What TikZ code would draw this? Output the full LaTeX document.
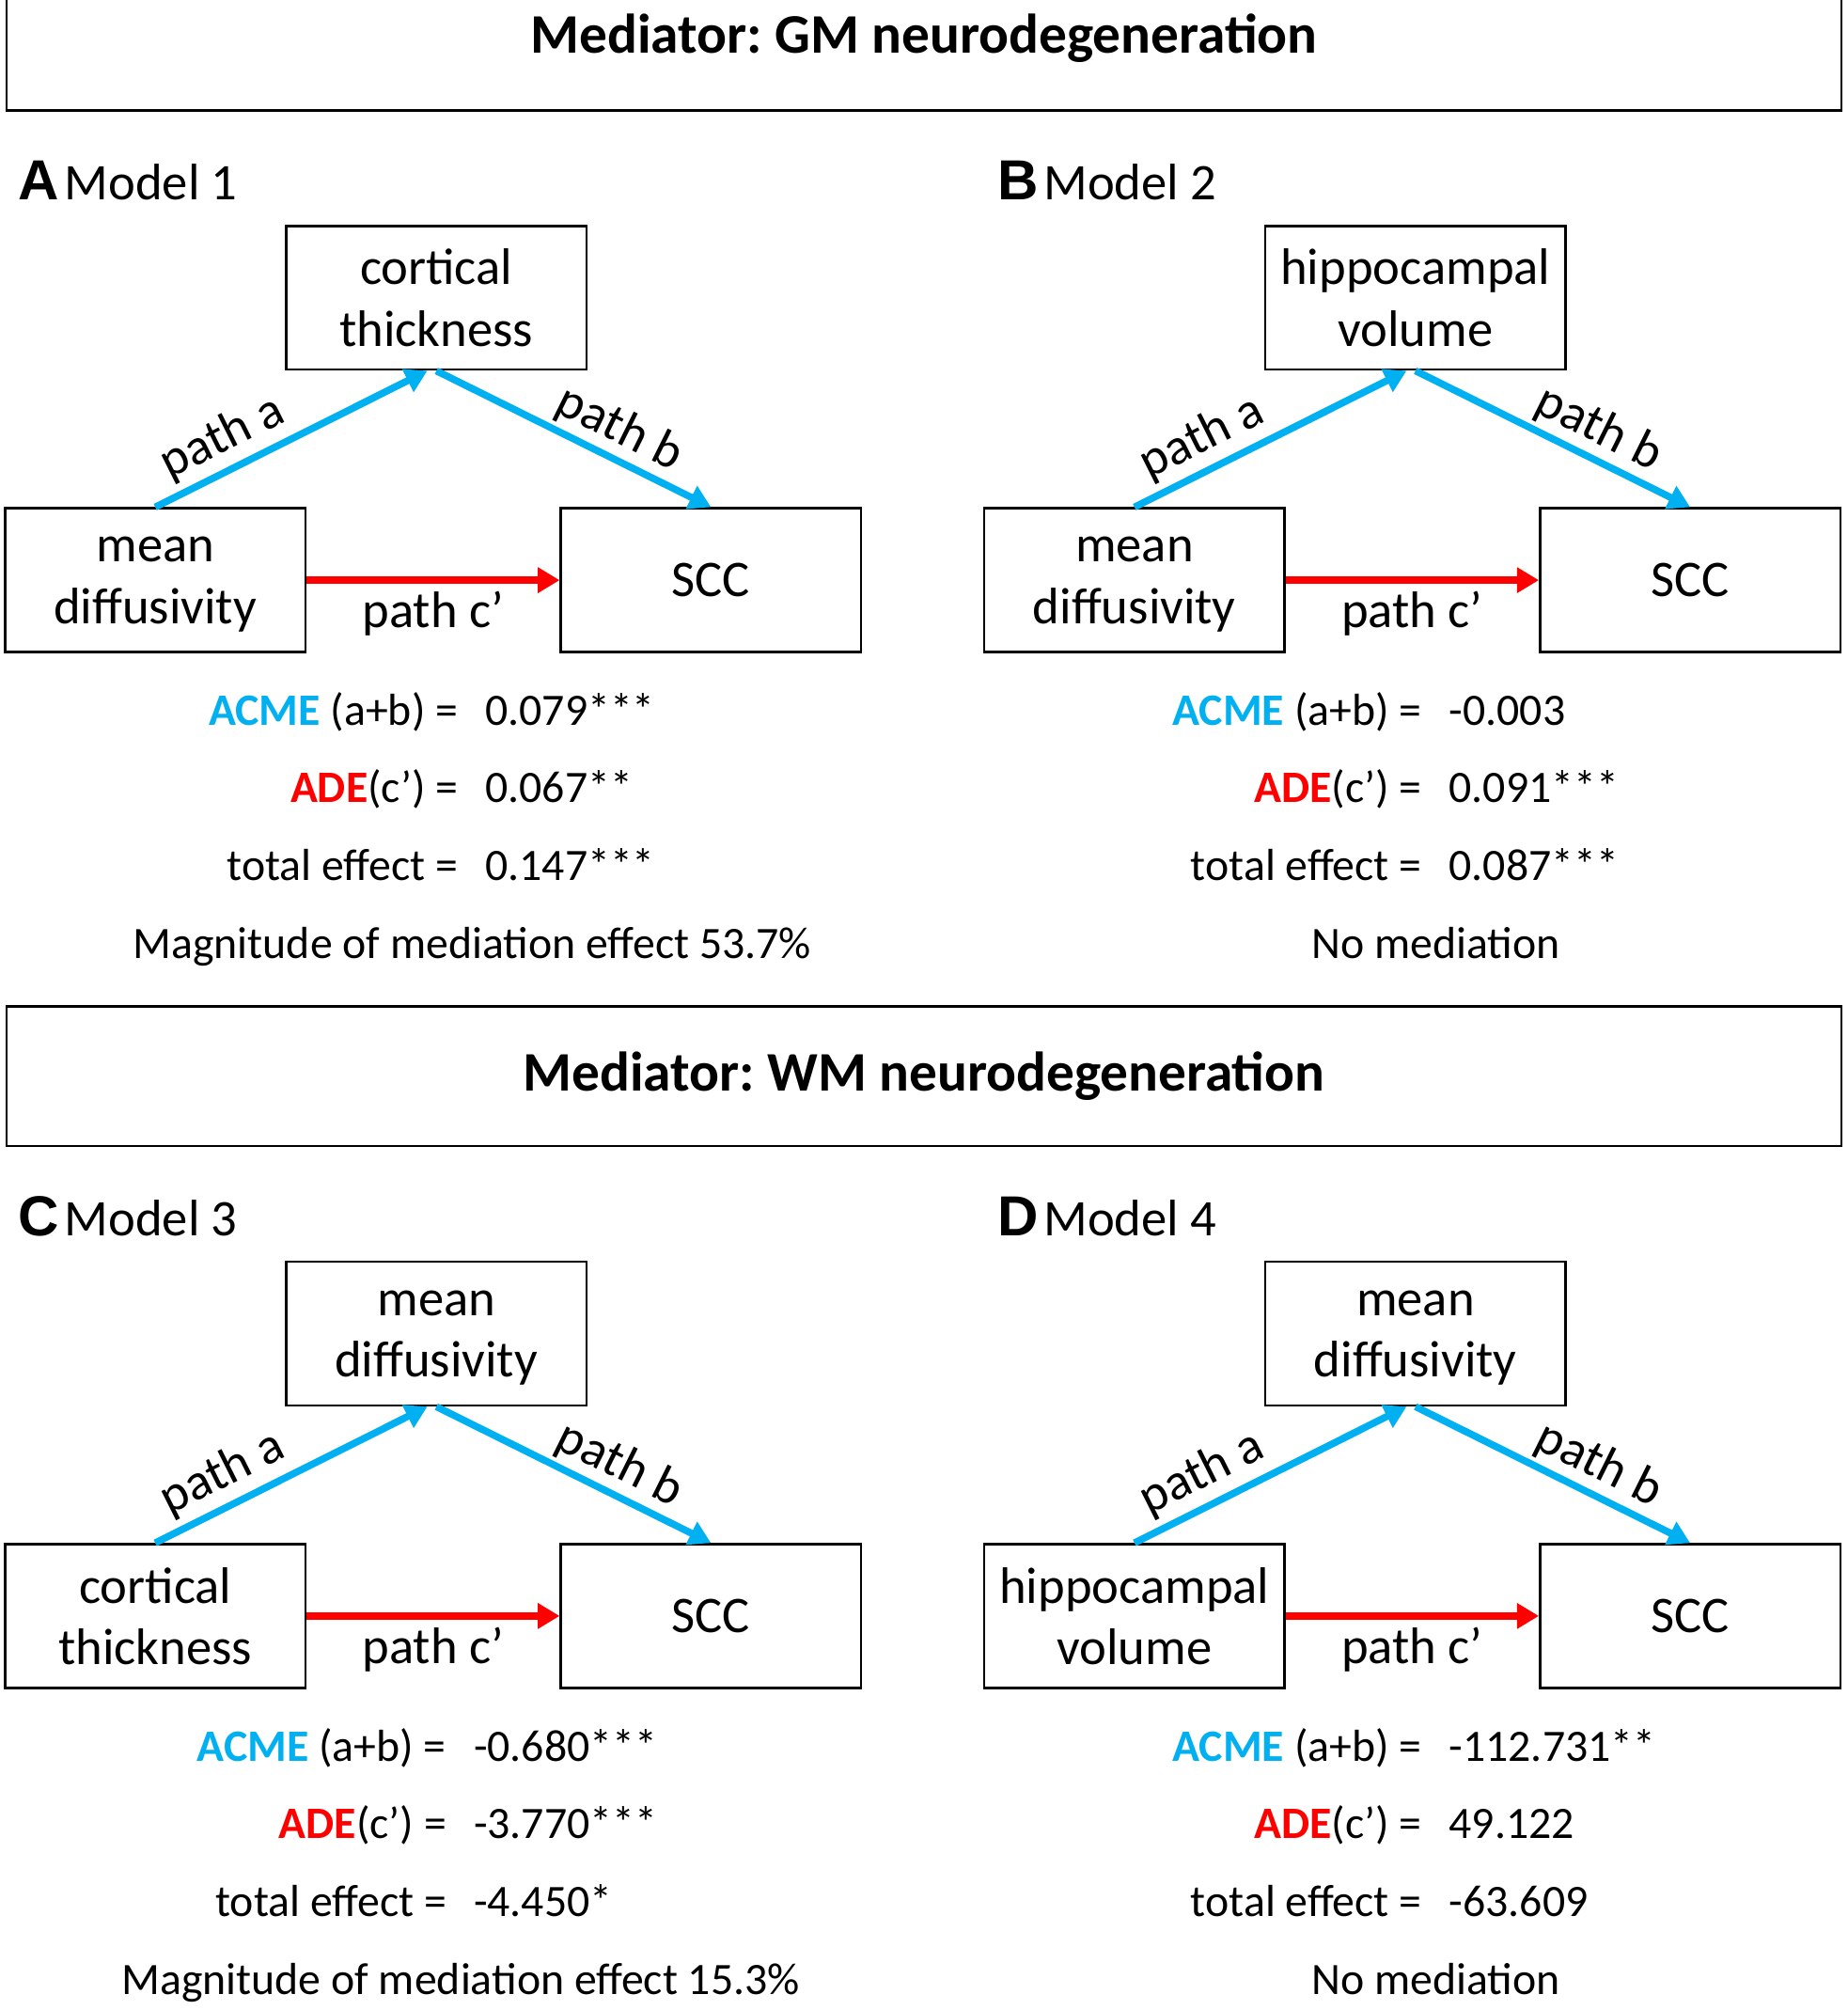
\documentclass[tikz,border=0pt]{standalone}
\usepackage{fontspec}
\setmainfont{Carlito}
\newfontfamily\letterfont{Liberation Sans}
\usetikzlibrary{arrows.meta}
\definecolor{pblue}{HTML}{00B0F0}
\definecolor{pred}{HTML}{FF0000}
\newcommand{\bodyfs}{\fontsize{35}{48}\selectfont}
\newcommand{\boxfs}{\fontsize{40}{48}\selectfont}
\newcommand{\hdrfs}{\fontsize{43.5}{52}\selectfont\bfseries}
\frenchspacing
\tikzset{
  box/.style={draw, line width=1.8pt, minimum width=234pt, minimum height=112pt,
    align=center, inner sep=0pt, font=\boxfs, text depth=0pt,
    execute at begin node={\rule{0pt}{26pt}}},
  hdr/.style={draw, line width=1.8pt, minimum width=1430pt, align=center, inner sep=0pt, font=\hdrfs},
  barrow/.style={draw=pblue, line width=5.5pt, -{Triangle[length=17pt,width=19pt]}},
  rarrow/.style={draw=pred, line width=5.5pt, -{Triangle[length=17pt,width=19pt]}},
  plabel/.style={font=\boxfs, inner sep=2pt},
  lbl/.style={anchor=base west, inner sep=0pt, font=\letterfont\bfseries\fontsize{44}{48}\selectfont},
  stl/.style={anchor=base east, inner sep=0pt, font=\bodyfs},
  stv/.style={anchor=base west, inner sep=0pt, font=\bodyfs},
  stc/.style={anchor=base, inner sep=0pt, font=\bodyfs},
}
% #1 letter, #2 model, #3 top text, #4 left text, #5 acme, #6 ade, #7 total, #8 last line, #9 x of "=" right edge
\newcommand{\mpanel}[9]{%
  \node[lbl] (#1let) at (14,156) {#1};
  \node[anchor=base west, inner sep=0pt, font=\fontsize{40}{44}\selectfont] (#1mod) at ([xshift=4pt]#1let.base east) {Model #2};
  \node[box] (#1top) at (340,232) {#3};
  \node[box] (#1left) at (121,452) {#4};
  \node[box] (#1right) at (554,452) {SCC};
  \draw[barrow] (#1left.north) -- node[plabel, pos=0.3, sloped, above=3pt] (#1pa) {path a} ([xshift=-7pt]#1top.south);
  \draw[barrow] (#1top.south) -- node[plabel, pos=0.62, sloped, above=1pt] (#1pb) {path b} (#1right.north);
  \draw[rarrow] (#1left.east) -- node[plabel, below=4pt] (#1pc) {path c’} (#1right.west);
  \node[stl] (#1s1) at (#9,565) {\textcolor{pblue}{\bfseries ACME} (a+b) =};
  \node[stv] (#1v1) at (#9+21,565) {#5};
  \node[stl] (#1s2) at (#9,625) {\textcolor{pred}{\bfseries ADE}(c’) =};
  \node[stv] (#1v2) at (#9+21,625) {#6};
  \node[stl] (#1s3) at (#9,686) {total effect =};
  \node[stv] (#1v3) at (#9+21,686) {#7};
  \node[stc] (#1s4) at (#9+11,747) {#8};
}
\begin{document}
\begin{tikzpicture}[x=1pt,y=-1pt]
\useasboundingbox (0,0) rectangle (1440,1566);
\node[hdr, minimum height=112pt] (h1) at (720,30) {Mediator: GM neurodegeneration};
\node[hdr, minimum height=109pt] (h2) at (720,838.5) {Mediator: WM neurodegeneration};
\begin{scope}
  \mpanel{A}{1}{cortical\\thickness}{mean\\diffusivity}{0.079***}{0.067**}{0.147***}{Magnitude of mediation effect 53.7\%}{357}
\end{scope}
\begin{scope}[shift={(763,0)}]
  \mpanel{B}{2}{hippocampal\\volume}{mean\\diffusivity}{-0.003}{0.091***}{0.087***}{No mediation}{345}
\end{scope}
\begin{scope}[shift={(0,807)}]
  \mpanel{C}{3}{mean\\diffusivity}{cortical\\thickness}{-0.680***}{-3.770***}{-4.450*}{Magnitude of mediation effect 15.3\%}{348}
\end{scope}
\begin{scope}[shift={(763,807)}]
  \mpanel{D}{4}{mean\\diffusivity}{hippocampal\\volume}{-112.731**}{49.122}{-63.609}{No mediation}{345}
\end{scope}
\end{tikzpicture}
\end{document}
